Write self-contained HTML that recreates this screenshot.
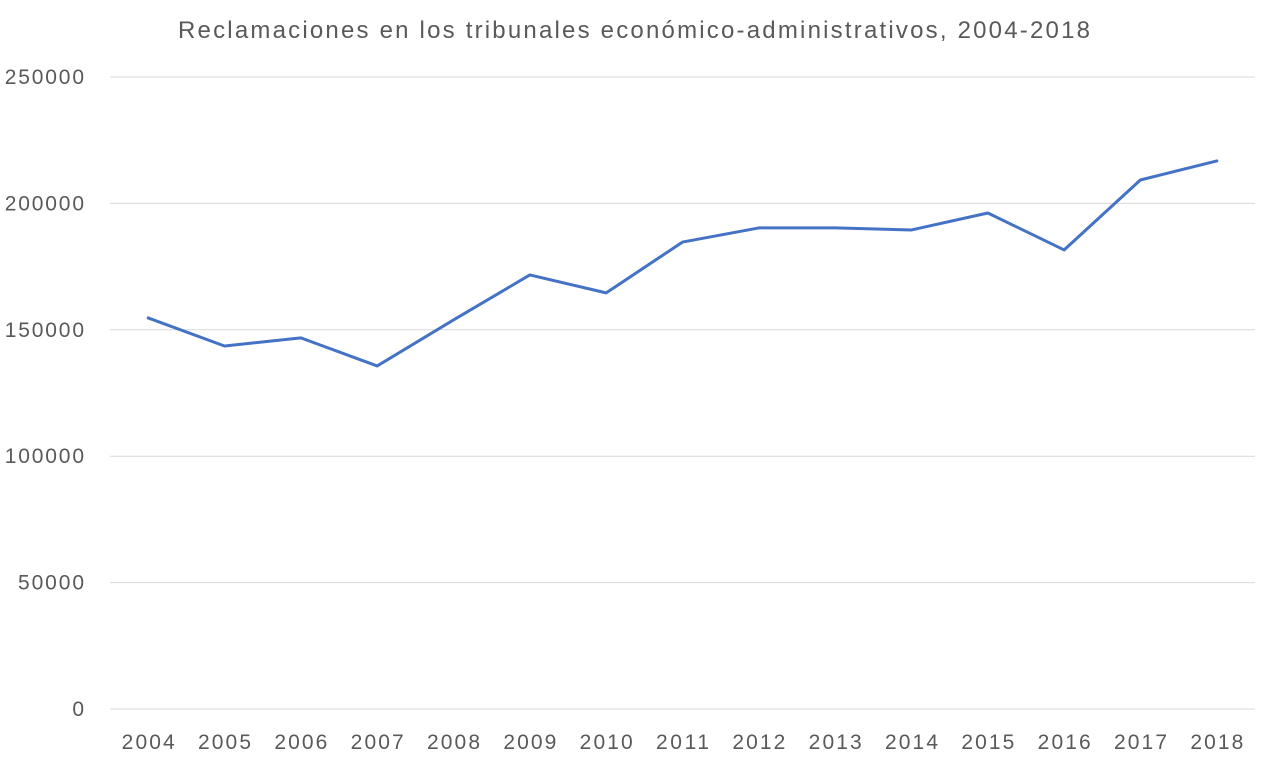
<!DOCTYPE html>
<html><head><meta charset="utf-8"><style>
html,body{margin:0;padding:0;background:#fff;}
svg{display:block;font-family:"Liberation Sans",sans-serif;}
</style></head><body>
<svg id="chart" width="1274" height="766">
<text x="634" y="38" text-anchor="middle" font-size="24" fill="#595959" textLength="912" lengthAdjust="spacing">Reclamaciones en los tribunales económico-administrativos, 2004-2018</text>
<g id="grid"></g><g id="yt"></g><g id="xt"></g><g id="series"></g>
</svg>
<script>
const years=["2004","2005","2006","2007","2008","2009","2010","2011","2012","2013","2014","2015","2016","2017","2018"];
const values=[154700,143600,146800,135700,153900,171700,164600,184700,190300,190300,189500,196200,181600,209300,216800];
const yTicks=[0,50000,100000,150000,200000,250000];
const NS="http://www.w3.org/2000/svg";
const L=110,R=1255,T=77,B=709,yMax=250000;
const bw=(R-L)/years.length;
function x(i){return L+bw*(i+0.5);}
function y(v){return B-(v/yMax)*(B-T);}
function mk(t,a,p){const e=document.createElementNS(NS,t);for(const k in a)e.setAttribute(k,a[k]);document.getElementById(p).appendChild(e);return e;}
yTicks.forEach(v=>{
 const g=mk('line',{x1:L,x2:R,y1:y(v),y2:y(v),stroke:'#d9d9d9','stroke-width':1},'grid');
 
 
 const s=String(v);
 const t=mk('text',{x:84,y:y(v)+7,'text-anchor':'end','font-size':21,fill:'#595959',textLength:s.length*13.2,lengthAdjust:'spacing'},'yt');
 t.textContent=s;
 
 
});
years.forEach((yr,i)=>{
 const t=mk('text',{x:x(i),y:749,'text-anchor':'middle','font-size':21,fill:'#595959',textLength:53,lengthAdjust:'spacing'},'xt');
 t.textContent=yr;
 
 
});
const p=mk('polyline',{points:values.map((v,i)=>x(i)+','+y(v)).join(' '),fill:'none',stroke:'#4472c4','stroke-width':3,'stroke-linejoin':'round','stroke-linecap':'round'},'series');


</script>
</body></html>
